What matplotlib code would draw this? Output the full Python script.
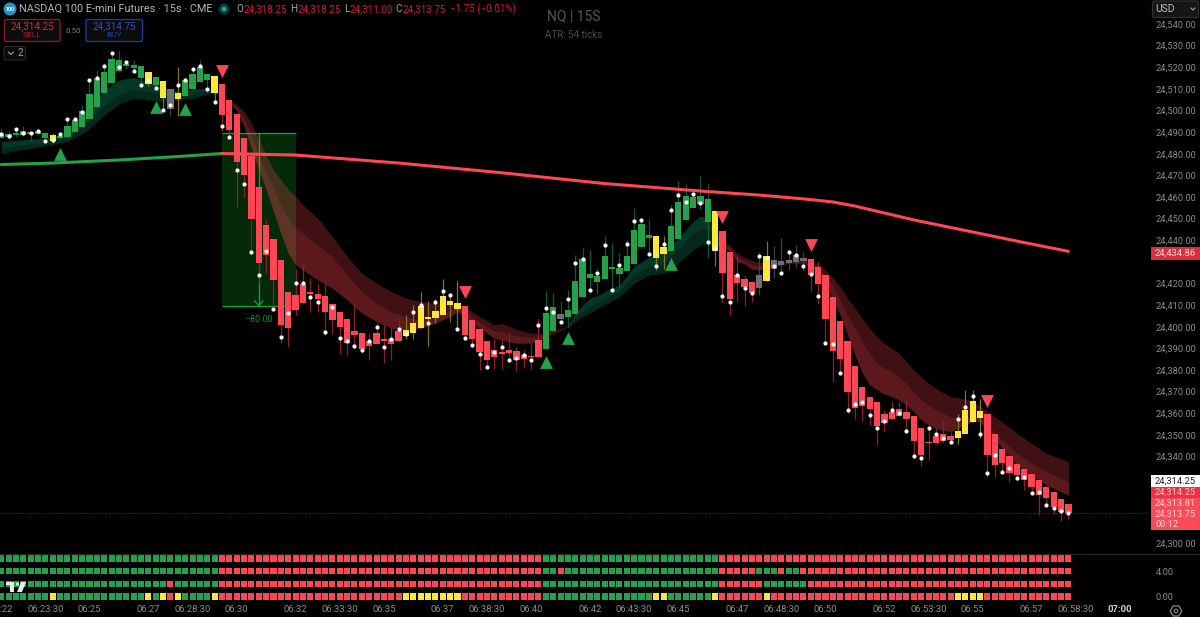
import matplotlib
matplotlib.use("Agg")
import matplotlib.pyplot as plt
from matplotlib.patches import Rectangle, FancyBboxPatch, Circle, Polygon
import numpy as np

plt.rcParams['font.family'] = ['Roboto', 'DejaVu Sans']

# 15s bars, bar 0 is 06:25:00. prices are points above 24,000
BASE = 24000
first_bar = -12

body_top = [
    489.8,489.0,489.8,490.5,489.9,490.5,489.8,488.8,488.1,493.0,
    495.6,499.6,507.8,514.9,517.7,523.8,523.2,521.4,520.9,520.7,
    518.0,515.3,513.7,510.0,508.1,514.0,516.7,520.1,516.7,515.8,
    512.1,505.0,498.3,487.2,479.0,464.5,447.2,440.5,430.9,416.0,
    414.7,419.8,415.8,415.2,414.4,410.4,407.0,403.5,398.1,397.2,
    393.6,397.0,394.4,394.1,398.1,398.4,401.9,409.5,404.6,407.3,
    414.4,412.0,411.0,409.5,403.2,398.9,393.6,389.2,388.4,389.3,
    388.7,386.8,386.5,393.9,406.4,409.2,405.9,407.9,421.2,431.5,
    424.6,423.5,432.6,427.5,427.2,432.7,444.6,447.5,442.3,441.8,
    436.7,446.6,457.7,460.5,459.9,460.5,458.9,453.7,444.5,434.7,
    423.8,422.1,420.6,424.0,432.7,430.7,430.4,430.7,433.2,431.7,
    431.4,427.7,423.8,413.8,402.5,393.4,381.8,372.3,367.7,365.1,
    359.5,360.4,361.8,360.4,358.7,353.0,346.7,349.6,350.3,349.3,
    352.0,361.5,365.8,361.0,359.5,350.3,343.3,340.1,336.4,334.2,
    331.8,329.0,325.8,323.4,320.4,318.25]
body_bot = [
    487.1,487.9,488.5,488.8,489.0,489.3,487.5,486.1,487.5,487.6,
    490.1,492.5,495.9,501.6,508.3,512.9,518.3,520.7,519.8,515.2,
    512.3,511.8,505.8,500.9,505.2,506.7,510.0,513.0,514.1,508.3,
    497.9,491.0,476.4,470.2,449.9,429.7,433.2,421.4,400.9,399.6,
    407.8,411.2,415.3,412.9,406.6,403.3,399.9,392.7,396.4,389.5,
    391.0,392.1,393.5,392.1,393.2,395.5,397.0,399.2,403.6,404.1,
    405.6,410.0,408.1,396.4,394.4,388.5,384.8,386.2,387.6,387.7,
    384.8,385.1,386.0,385.9,389.9,397.9,403.5,404.7,406.1,413.6,
    422.6,420.7,422.3,426.9,424.4,425.8,429.2,436.9,441.2,431.8,
    433.8,435.2,440.8,449.2,454.8,456.8,448.6,435.2,425.0,412.7,
    420.0,418.4,415.6,418.0,421.0,426.9,428.6,429.7,430.0,430.4,
    423.7,419.6,403.8,389.0,385.2,370.0,362.3,363.2,362.0,354.1,
    355.7,357.4,358.9,357.4,347.0,340.6,346.1,346.3,347.3,347.8,
    348.4,350.4,355.8,357.7,340.9,336.2,336.9,332.5,331.5,329.1,
    325.9,322.2,321.0,316.7,314.2,313.75]
highs = [
    491.8,490.7,491.8,492.9,490.7,491.3,490.2,489.5,489.5,496.1,
    496.4,502.7,514.1,518.7,521.8,527.2,527.5,522.9,523.2,520.7,
    518.0,515.3,513.7,510.0,520.0,515.3,519.5,523.4,516.7,515.8,
    512.1,505.0,498.3,487.2,479.0,464.5,449.7,440.5,430.9,416.0,
    426.6,429.4,422.4,419.8,419.8,410.4,407.0,403.5,410.9,397.2,
    397.3,401.6,400.7,399.8,403.9,405.3,410.1,416.0,411.8,412.7,
    422.0,415.5,421.0,409.5,403.2,398.9,393.6,394.2,394.2,397.0,
    390.8,389.3,392.7,403.5,416.3,415.5,411.8,416.9,433.4,436.3,
    435.4,427.2,442.0,438.9,434.0,440.1,454.9,450.2,449.7,441.8,
    442.0,456.2,467.6,466.0,462.9,469.7,466.3,453.7,444.5,434.7,
    432.7,423.8,420.6,434.4,439.5,437.4,441.1,435.8,437.8,434.7,
    431.4,430.1,423.8,413.8,402.5,393.4,381.8,372.3,367.7,365.1,
    361.5,365.5,365.2,365.5,358.7,353.0,354.1,353.0,356.3,351.5,
    359.7,370.8,370.8,366.7,359.5,350.3,343.3,340.1,336.4,334.2,
    331.8,329.0,326.8,323.4,320.4,318.25]
lows = [
    487.1,486.7,487.6,488.2,486.1,488.8,485.6,484.8,486.7,487.6,
    490.1,492.5,495.9,501.6,508.3,512.9,518.3,519.2,518.3,511.0,
    511.3,509.8,500.2,497.5,497.5,506.7,510.0,513.0,508.0,503.3,
    490.7,487.1,455.6,459.9,434.6,420.1,424.7,407.5,392.7,390.5,
    405.3,411.2,406.6,407.0,396.2,396.7,387.5,387.0,390.1,387.8,
    384.4,392.1,383.1,384.7,393.2,394.2,394.2,399.2,391.2,401.6,
    405.6,402.2,399.2,393.6,390.8,380.1,380.4,380.4,380.3,384.4,
    379.7,381.0,380.3,385.9,389.9,397.9,402.1,400.1,406.1,413.6,
    415.8,415.2,422.3,417.0,417.8,425.8,429.2,436.9,433.2,426.3,
    426.9,435.2,440.8,449.2,454.8,454.3,432.0,428.1,411.2,405.6,
    411.6,409.8,411.6,414.7,421.0,422.6,424.7,426.3,427.8,426.3,
    416.6,410.5,392.5,374.6,378.5,360.3,357.4,356.6,354.6,345.2,
    352.0,357.4,358.9,351.5,339.9,335.8,338.4,346.1,346.1,346.1,
    345.8,350.4,355.8,348.4,330.7,330.4,331.8,328.1,328.7,324.5,
    323.0,313.1,317.6,313.4,310.2,311.0]
dots = [
    489.0,488.2,491.5,489.8,489.6,490.7,485.9,486.4,489.2,496.1,
    495.9,499.5,514.1,515.0,520.7,526.6,520.0,522.3,518.3,512.0,
    514.3,510.6,500.4,502.4,512.0,514.3,519.0,520.6,509.8,503.8,
    492.7,487.9,472.7,466.2,434.6,423.7,434.9,408.3,395.3,406.4,
    420.0,420.0,413.8,411.6,397.5,408.9,394.7,393.2,391.3,389.1,
    393.5,399.9,390.7,394.5,399.0,396.5,406.7,410.0,401.8,411.6,
    416.3,414.7,399.0,395.0,391.6,387.3,381.4,388.5,390.7,384.4,
    385.7,387.1,384.7,401.0,408.5,407.0,402.1,412.9,429.7,431.5,
    416.9,425.0,437.7,417.0,428.7,438.3,449.1,449.4,433.7,428.3,
    438.3,454.0,460.8,457.9,461.6,457.1,439.1,436.4,414.4,411.6,
    423.8,417.8,415.6,432.9,432.0,428.3,425.0,434.7,433.0,428.1,
    424.3,414.2,392.5,392.1,378.5,361.5,364.3,365.1,359.3,353.2,
    356.3,361.5,360.0,351.6,340.4,339.5,353.2,350.6,348.4,346.6,
    357.4,362.7,368.0,350.6,332.4,340.9,333.0,334.5,330.1,330.5,
    323.0,323.8,317.6,316.2,314.8,313.7]
# G green, R red, Y yellow, S gray
candle_colors = ("G"*7 + "Y" + "G"*12 + "YGYSY" + "G"*4 + "Y" + "R"*25 + "Y"*8 + "R"*11
                 + "GGS" + "G"*12 + "YY" + "G"*6 + "Y" + "R"*5 + "SY" + "S"*5 + "R"*20
                 + "Y"*4 + "R"*12)

# ribbons, (bar, outer edge, middle, inner edge)
green_a_bars = [-12,-6,-3,-1,0,2,4,6,8,10,12,14,16,18]
green_a_up = [485.6,487.3,489.5,497.9,501.8,509.5,514.1,515.3,513.3,510.7,508.7,509.8,510.3,508.3]
green_a_mid = [482.5,485.6,487.6,492.8,495.9,502.1,507.2,509.8,508.7,507.2,506.4,507.6,509.2,508.0]
green_a_low = [480.2,483.6,485.6,489.1,491.8,497.9,503.0,505.6,504.9,504.1,504.9,505.6,507.6,507.6]

red_a_bars = [18.5,19,20,21,22,23,24,25,26,27,28,29,31,33,35,37,39,41,43,45,47,49,50,51,53,55,56,58,60,62,65]
red_a_up = [508.0,505.2,502.6,499.5,494.1,486.4,479.4,472.5,467.9,463.6,460.2,456.3,450.2,441.7,432.4,424.7,
            420.1,416.3,413.2,411.6,410.9,410.9,410.9,409.3,404.7,400.9,401.6,398.8,397.0,397.0,400.3]
red_a_mid = [508.0,504.9,501.5,496.4,488.7,479.4,471.7,464.0,456.3,450.2,446.3,443.2,437.8,432.4,424.0,416.3,
             410.9,407.0,404.7,403.2,403.9,407.8,409.3,407.0,402.4,397.8,397.8,395.8,395.0,396.2,400.1]
red_a_low = [507.7,504.1,500.0,492.5,482.5,472.5,463.3,453.3,443.2,434.0,428.6,426.3,421.7,417.8,412.4,406.3,
             402.4,399.3,398.2,399.3,401.6,404.7,407.0,404.7,399.3,394.7,393.9,392.4,392.4,395.4,399.9]

green_b_bars = [65,66,67,68,69,70,72,74,76,78,80,82,83,84,85,86]
green_b_up = [400.8,406.2,410.1,413.2,414.3,416.3,419.3,427.8,432.1,434.7,440.9,448.6,451.2,450.2,444.0,439.4]
green_b_mid = [400.1,403.9,407.0,409.3,410.9,413.2,416.3,424.0,427.8,429.7,436.3,443.2,445.1,445.1,441.7,438.6]
green_b_low = [399.3,402.4,404.7,406.2,408.5,410.1,413.9,420.1,424.0,424.7,429.4,435.5,437.8,438.3,437.4,437.8]

red_b_bars = [86,87,88,89,90,91,92,95,97,98,99,100,101,102,103,104,105,106,107,108,109,110,111,112,113,114,
              115,116,117,118,119,120,121,122,124,126,128,130,133]
red_b_up = [439.4,437.8,434.0,432.1,430.6,429.8,429.4,430.1,430.9,430.1,429.3,426.2,422.8,418.5,413.1,408.5,
            403.9,399.3,395.4,392.3,390.0,387.7,383.9,380.0,376.9,373.8,371.5,369.5,367.7,367.2,366.4,365.4,
            363.4,360.7,356.1,350.7,346.1,341.5,337.6]
red_b_mid = [438.6,436.3,432.0,430.6,428.6,428.1,428.1,429.7,430.2,429.0,427.8,423.9,419.3,412.4,405.4,399.3,
             393.1,387.7,383.1,380.8,379.2,376.9,373.8,370.0,366.1,363.8,361.5,360.0,358.4,358.1,358.4,358.7,
             358.1,354.6,347.6,341.5,336.9,333.0,328.4]
red_b_low = [437.8,434.7,430.1,429.0,426.6,426.3,427.0,429.4,429.4,427.8,425.5,420.8,412.4,405.4,396.2,386.9,
             378.5,373.1,370.8,368.9,367.7,366.1,363.8,360.7,356.9,354.6,353.0,352.0,351.5,353.0,354.6,356.1,
             356.1,352.3,343.8,336.1,331.5,326.8,322.2]

# long average, green up to the crossover then red
ema_green_bars = [-12,-5,4,12,18]
ema_green = [475.0,475.7,477.1,478.7,480.1]
ema_red_bars = [18,28,42,56,70,84,91,98,101,104,108,112,119,126,133]
ema_red = [480.1,479.4,475.7,471.2,466.2,462.5,460.9,458.8,457.7,455.8,452.6,449.4,444.5,439.6,434.86]

buy_bars = [-4,9,13,62,65,79]
buy_prices = [479.8,501.8,500.6,383.7,394.7,428.9]
sell_bars = [18,51,86,98,122]
sell_prices = [518.4,416.0,450.9,437.8,365.8]

# short position tool
pos_start, pos_end, pos_mid = 18, 28, 23
pos_top, pos_bottom = 489.75, 409.75

# bottom pane rows, from the top
row_values = [6, 4, 2, 0]
row_colors = [
    "G"*30 + "R"*44 + "G"*24 + "R"*48,
    "G"*30 + "R"*44 + "GGR" + "G"*21 + "R"*5 + "GGGRGG" + "R"*37,
    "G"*23 + "R" + "G"*6 + "R"*44 + "G"*24 + "R"*6 + "G"*6 + "R"*36,
    "G"*7 + "Y" + "G"*12 + "YGYRY" + "G"*4 + "Y" + "R"*25 + "Y"*8 + "R"*11 + "G"*15 + "YY" + "G"*6 + "Y"
    + "R"*6 + "Y" + "R"*25 + "Y"*4 + "R"*12,
]

price_ticks = [24300] + [p for p in range(24340, 24550, 10) if p != 24430]
pane_ticks = [0, 4]
time_bars = [-12,-6,0,8,14,20,28,34,40,48,54,60,68,74,80,88,94,100,108,114,120,128,134,140]
time_labels = ["06:22","06:23:30","06:25","06:27","06:28:30","06:30","06:32","06:33:30","06:35","06:37",
               "06:38:30","06:40","06:42","06:43:30","06:45","06:47","06:48:30","06:50","06:52","06:53:30",
               "06:55","06:57","06:58:30","07:00"]

BODY = {"G": "#27a04c", "R": "#ff4655", "Y": "#fde73a", "S": "#6e6f78"}
WICK = {"G": "#125a2c", "R": "#8a2029", "Y": "#7f7420", "S": "#3f4045"}
SQUARE = {"G": "#27a04c", "R": "#ff4655", "Y": "#fde73a"}
GREY = "#8b8b8b"
TICK_SIZE = 6.7

fig = plt.figure(figsize=(12, 6.17), dpi=100, facecolor="black")
W, H = 1200.0, 617.0
ax = fig.add_axes([0, (H-554)/H, 1150/W, 554/H], facecolor="black")
pane = fig.add_axes([0, (H-602)/H, 1150/W, 48/H], facecolor="black")
xlim = (-12.16, 144.09)

bars = np.arange(first_bar, first_bar + len(body_top))
top = BASE + np.array(body_top)
bot = BASE + np.array(body_bot)

# position box, behind everything
ax.add_patch(Rectangle((pos_start, BASE + pos_bottom), pos_end - pos_start, pos_top - pos_bottom,
                       facecolor="#042a0a", edgecolor="none", zorder=1))
ax.hlines([BASE + pos_top, BASE + pos_bottom], pos_start, pos_end, color="#18a828", lw=0.9, zorder=1.2)
ax.vlines(pos_mid, BASE + pos_bottom, BASE + pos_top, color="#18a828", lw=0.9, zorder=1.2)
ax.plot([pos_mid - 0.55, pos_mid, pos_mid + 0.55],
        [BASE + pos_bottom + 2.2, BASE + pos_bottom, BASE + pos_bottom + 2.2], color="#18a828", lw=0.9, zorder=1.2)
ax.text(pos_mid, BASE + pos_bottom - 6.6, "\u221280.00", color="#0f8f22", fontsize=6.4, ha="center", va="center")


def ribbon(xs, up, mid, low, color, alpha_a, alpha_b):
    xs = np.array(xs)
    ax.fill_between(xs, BASE + np.array(up), BASE + np.array(mid), color=color, alpha=alpha_a, lw=0, zorder=2)
    ax.fill_between(xs, BASE + np.array(mid), BASE + np.array(low), color=color, alpha=alpha_b, lw=0, zorder=2)


ribbon(green_a_bars, green_a_up, green_a_mid, green_a_low, "#12a878", 0.33, 0.24)
ribbon(green_b_bars, green_b_up, green_b_mid, green_b_low, "#12a878", 0.33, 0.24)
ribbon(red_a_bars, red_a_up, red_a_mid, red_a_low, "#ff4655", 0.25, 0.36)
ribbon(red_b_bars, red_b_up, red_b_mid, red_b_low, "#ff4655", 0.25, 0.36)

# candles
ax.vlines(bars, BASE + np.array(lows), BASE + np.array(highs),
          colors=[WICK[c] for c in candle_colors], lw=0.9, zorder=3)
ax.bar(bars, np.maximum(top - bot, 0.6), bottom=bot, width=0.85,
       color=[BODY[c] for c in candle_colors], linewidth=0, zorder=4)

ax.plot(ema_green_bars, BASE + np.array(ema_green), color="#27a04c", lw=2.2, zorder=4.5, solid_capstyle="round")
ax.plot(ema_red_bars, BASE + np.array(ema_red), color="#ff4655", lw=2.2, zorder=4.5, solid_capstyle="round")

ax.scatter(bars, BASE + np.array(dots), s=9, color="white", linewidths=0, zorder=6)
ax.scatter(buy_bars, BASE + np.array(buy_prices), s=85, marker="^", color="#27a04c", linewidths=0, zorder=5)
ax.scatter(sell_bars, BASE + np.array(sell_prices), s=85, marker="v", color="#ff4655", linewidths=0, zorder=5)

ax.axhline(BASE + 313.75, color="#7a1f28", lw=0.8, ls=(0, (1, 1.5)), zorder=2.5)

ax.set_xlim(xlim)
ax.set_ylim(24294.9, 24551.1)
ax.yaxis.tick_right()
ax.set_yticks(price_ticks)
ax.set_yticklabels([f"{p:,.2f}" for p in price_ticks], color=GREY, fontsize=TICK_SIZE)
ax.tick_params(axis="y", length=0, pad=4.3)
ax.tick_params(axis="x", length=0, labelbottom=False)
for s in ax.spines.values():
    s.set_visible(False)

# bottom pane
for row, val in zip(row_colors, row_values):
    pane.bar(bars, 1.0, bottom=val - 0.5, width=0.82, color=[SQUARE[c] for c in row], linewidth=0)
pane.set_xlim(xlim)
pane.set_ylim(-0.87, 6.70)
pane.yaxis.tick_right()
pane.set_yticks(pane_ticks)
pane.set_yticklabels([f"{v:.2f}" for v in pane_ticks], color=GREY, fontsize=TICK_SIZE)
pane.set_xticks(time_bars)
pane.set_xticklabels(time_labels, color=GREY, fontsize=6.8)
pane.get_xticklabels()[-1].set_color("#d0d0d0")
pane.get_xticklabels()[-1].set_fontweight("bold")
pane.tick_params(axis="y", length=0, pad=4.3)
pane.tick_params(axis="x", length=0, pad=2.5)
for s in pane.spines.values():
    s.set_visible(False)

# overlay in screen pixels for the app chrome
ui = fig.add_axes([0, 0, 1, 1], facecolor="none", zorder=10)
ui.set_xlim(0, W)
ui.set_ylim(H, 0)
ui.axis("off")


def label(x, y, s, color=GREY, size=TICK_SIZE, ha="left", **kw):
    ui.text(x, y, s, color=color, fontsize=size, ha=ha, va="center", **kw)


def box(x0, y0, x1, y1, face, edge="none", rounded=False):
    if rounded:
        ui.add_patch(FancyBboxPatch((x0 + 2, y0 + 2), x1 - x0 - 4, y1 - y0 - 4, boxstyle="round,pad=2",
                                    facecolor=face, edgecolor=edge, lw=0.9))
    else:
        ui.add_patch(Rectangle((x0, y0), x1 - x0, y1 - y0, facecolor=face, edgecolor=edge, lw=0))


ui.plot([0, W], [554, 554], color="#262626", lw=0.9)

# legend line
ui.add_patch(Circle((10, 9), 6.5, facecolor="#2a8fc4", edgecolor="none"))
label(10, 9.2, "100", color="white", size=3.8, ha="center", fontweight="bold")
label(19, 9, "NASDAQ 100 E-mini Futures \u00b7 15s \u00b7 CME", color="#b4b4b4", size=7.85)
ui.add_patch(Circle((224, 9), 5.5, facecolor="#063a33", edgecolor="none"))
ui.add_patch(Circle((224, 9), 2.5, facecolor="#0fb09a", edgecolor="none"))
red_txt = "#c81e32"
for x_l, ch, x_v, val in [(236, "O", 243, "24,318.25"), (290, "H", 297, "24,318.25"),
                          (344, "L", 349.5, "24,311.00"), (395.5, "C", 402.5, "24,313.75")]:
    label(x_l, 9, ch, color="#a8a8a8", size=7.1)
    label(x_v, 9, val, color=red_txt, size=7.1)
label(449.5, 9, "\u22121.75 (\u22120.01%)", color=red_txt, size=7.1)

# sell / buy buttons
box(4.5, 19.5, 60, 41.5, "#0c0c0c", edge="#8f1c2b", rounded=True)
label(32, 26, "24,314.25", color="#d0283c", size=7.1, ha="center")
label(32, 35, "SELL", color="#a82030", size=6, ha="center")
label(73, 31, "0.50", color="#7d7d7d", size=5.7, ha="center")
box(86, 19.5, 142.5, 41.5, "#0c0c0c", edge="#1c3fa8", rounded=True)
label(114, 26, "24,314.75", color="#2b50d8", size=7.1, ha="center")
label(114, 35, "BUY", color="#2340a8", size=6, ha="center")

box(4, 46.5, 25.5, 60, "#0a0a0a", edge="#262626", rounded=True)
ui.plot([8.5, 11, 13.5], [52, 54.5, 52], color="#a0a0a0", lw=0.8)
label(20, 53.5, "2", color="#a0a0a0", size=7, ha="center")

# title watermark
label(574, 16, "NQ | 15S", color="#575757", size=10, ha="center")
label(574, 35, "ATR: 54 ticks", color="#4c4c4c", size=7, ha="center")

# USD selector
box(1152.5, 1, 1198.5, 17.5, "#161616", edge="#303030", rounded=True)
label(1155, 9, "USD", color="#bdbdbd", size=7.4)
ui.plot([1191, 1193, 1195], [8, 10, 8], color="#a0a0a0", lw=0.8)

# price labels
box(1151, 247, 1200, 260, "#d92f3c")
label(1195.5, 253.5, "24,434.86", color="#ffdcdc", ha="right")
box(1151, 475, 1200, 487, "white")
label(1195.5, 481, "24,314.25", color="#222222", ha="right")
box(1151, 487, 1200, 498, "#f12f3f")
label(1195.5, 492.5, "24,314.25", color="#ffc9cc", ha="right")
box(1151, 498, 1200, 509, "#fb4a58")
label(1195.5, 503.5, "24,313.81", color="#ffd5d8", ha="right")
box(1151, 509, 1200, 530, "#fb4a58")
label(1195.5, 514.5, "24,313.75", color="#ffd5d8", ha="right")
label(1156, 524.5, "00:12", color="#ffd5d8")

# tradingview mark over the pane
ui.add_patch(Rectangle((6, 582), 8, 3.2, facecolor="#e8e8e8", edgecolor="none"))
ui.add_patch(Rectangle((10, 582), 4, 10, facecolor="#e8e8e8", edgecolor="none"))
ui.add_patch(Circle((17.5, 584), 1.6, facecolor="#e8e8e8", edgecolor="none"))
ui.add_patch(Polygon([(21, 582), (26, 582), (22, 592), (17, 592)], facecolor="#e8e8e8", edgecolor="none"))

# settings gear
ui.scatter([1176], [611], marker="H", s=70, facecolor="none", edgecolor="#8a8a8a", linewidths=0.9)
ui.scatter([1176], [611], marker="o", s=7, facecolor="none", edgecolor="#8a8a8a", linewidths=0.8)

fig.savefig("out.png", dpi=100, facecolor="black")
plt.close(fig)
